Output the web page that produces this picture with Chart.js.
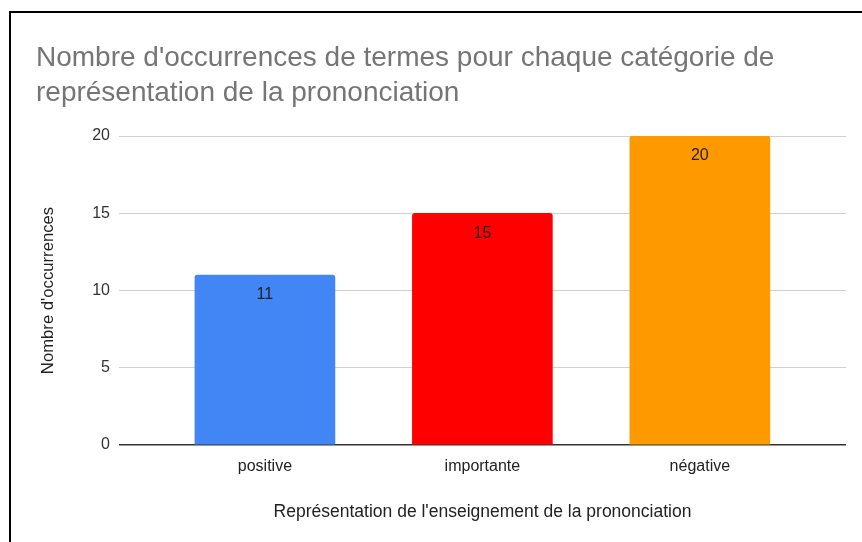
<!DOCTYPE html>
<html>
<head>
<meta charset="utf-8">
<script src="https://cdn.jsdelivr.net/npm/chart.js@4"></script>
<style>
  html, body { margin: 0; padding: 0; background: #fff; }
  #frame {
    position: absolute;
    left: 9px;
    top: 11px;
    width: 851px;
    height: 529px;
    border-top: 2px solid #000;
    border-left: 2px solid #000;
  }
</style>
</head>
<body>
<div id="frame"><canvas id="occ-chart" width="851" height="529"></canvas></div>
<script>
const categories = ['positive', 'importante', 'négative'];
const occurrences = [11, 15, 20];
const barColors = ['#4285f4', '#ff0000', '#ff9900'];
const yTicks = [0, 5, 10, 15, 20];

const titleLines = [
  "Nombre d'occurrences de termes pour chaque catégorie de",
  'représentation de la prononciation'
];

const FONT = "'Liberation Sans', Arial, sans-serif";

// writes the value just under the top of each bar
const barValues = {
  id: 'barValues',
  afterDatasetsDraw(chart) {
    const ctx = chart.ctx;
    const meta = chart.getDatasetMeta(0);
    ctx.save();
    ctx.font = '16px ' + FONT;
    ctx.fillStyle = '#222';
    ctx.textAlign = 'center';
    ctx.textBaseline = 'middle';
    meta.data.forEach((bar, i) => {
      ctx.fillText(String(occurrences[i]), bar.x, bar.y + 20);
    });
    ctx.restore();
  }
};

const ctx = document.getElementById('occ-chart');

new Chart(ctx, {
  type: 'bar',
  data: {
    datasets: [{
      data: occurrences.map((v, i) => ({ x: i, y: v })),
      backgroundColor: barColors,
      barThickness: 140,
      borderRadius: 3,
      borderSkipped: 'bottom'
    }]
  },
  plugins: [barValues],
  options: {
    responsive: false,
    animation: false,
    layout: {
      padding: { left: 25, right: 16, top: 0, bottom: 0 }
    },
    plugins: {
      legend: { display: false },
      tooltip: { enabled: false },
      title: {
        display: true,
        text: titleLines,
        align: 'start',
        color: '#757575',
        font: { size: 28, family: FONT, weight: 'normal', lineHeight: 1.25 },
        padding: { top: 28, bottom: 25 }
      }
    },
    scales: {
      x: {
        type: 'linear',
        min: -0.671,
        max: 2.672,
        offset: false,
        afterBuildTicks: axis => {
          axis.ticks = categories.map((c, i) => ({ value: i }));
        },
        afterFit: axis => { axis.height = 97; },
        ticks: {
          callback: v => categories[v],
          color: '#222',
          padding: 12,
          autoSkip: false,
          maxRotation: 0,
          font: { size: 16, family: FONT }
        },
        grid: { display: false, drawTicks: false },
        border: { display: false },
        title: {
          display: true,
          text: "Représentation de l'enseignement de la prononciation",
          color: '#222',
          font: { size: 17.5, family: FONT },
          padding: { top: 0, bottom: 19 },
          align: 'center'
        }
      },
      y: {
        min: 0,
        max: 20,
        afterBuildTicks: axis => {
          axis.ticks = yTicks.map(v => ({ value: v }));
        },
        afterFit: axis => { axis.width = 83; },
        ticks: {
          color: '#333',
          padding: 9,
          font: { size: 16, family: FONT }
        },
        grid: {
          drawTicks: false,
          color: c => c.tick && c.tick.value === 0 ? '#333' : '#d0d0d0',
          lineWidth: c => c.tick && c.tick.value === 0 ? 1.5 : 1
        },
        border: { display: false },
        title: {
          display: true,
          text: "Nombre d'occurrences",
          color: '#222',
          font: { size: 16.7, family: FONT },
          padding: { top: 2, bottom: 0 }
        }
      }
    }
  }
});
</script>
</body>
</html>
